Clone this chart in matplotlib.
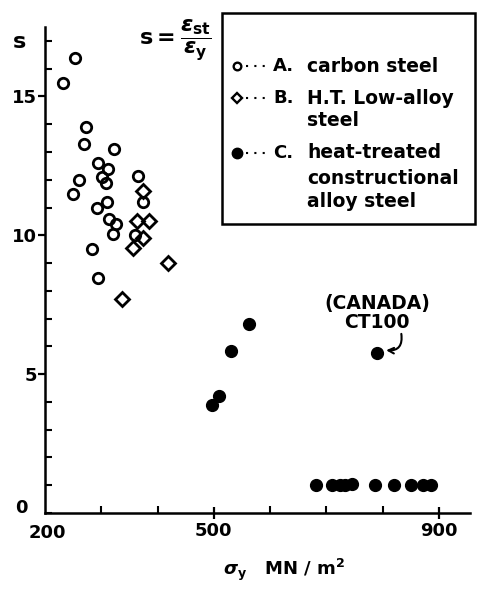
import matplotlib
matplotlib.use('Agg')
import matplotlib.pyplot as plt
from matplotlib.lines import Line2D
from matplotlib.patches import Rectangle
from matplotlib.ticker import FixedLocator, MultipleLocator

plt.rcParams['font.family'] = ['DejaVu Sans']
plt.rcParams['font.weight'] = 'bold'
plt.rcParams['mathtext.fontset'] = 'dejavusans'

# ---- data (yield stress MN/m^2, strain-hardening ratio s) ----
carbon_sy = [232, 253, 273, 269, 260, 250, 323, 294, 312, 301, 308, 292, 310,
             314, 326, 321, 284, 294, 365, 374, 360]
carbon_s = [15.5, 16.4, 13.9, 13.3, 12.0, 11.5, 13.1, 12.6, 12.4, 12.1, 11.9,
            11.0, 11.2, 10.6, 10.4, 10.05, 9.5, 8.45, 12.15, 11.2, 10.0]
lowalloy_sy = [374, 364, 385, 374, 356, 419, 337]
lowalloy_s = [11.6, 10.5, 10.5, 9.9, 9.55, 9.0, 7.7]
ht_sy = [497, 509, 531, 563, 790, 682, 710, 724, 733, 746, 787, 820, 851, 872, 886]
ht_s = [3.9, 4.2, 5.85, 6.8, 5.75, 1.0, 1.0, 1.0, 1.0, 1.05, 1.0, 1.0, 1.0, 1.0, 1.0]

x_major = [500, 900]
x_minor = [300, 400, 600, 700, 800]
y_major = [5, 10, 15]

legend_labels = [("A.", ["carbon steel"]),
                 ("B.", ["H.T. Low-alloy", "steel"]),
                 ("C.", ["heat-treated", "constructional", "alloy steel"])]

W, H = 479, 590
fig = plt.figure(figsize=(W / 100, H / 100), dpi=100)

def fx(px):
    return px / W

def fy(py):
    return 1 - py / H

ax = fig.add_axes([fx(45), fy(513), 425 / W, 486 / H])
ax.set_xlim(200, 955)
ax.set_ylim(0, 17.5)
for s in ['top', 'right']:
    ax.spines[s].set_visible(False)
for s in ['left', 'bottom']:
    ax.spines[s].set_linewidth(1.8)

ax.plot(carbon_sy, carbon_s, 'o', ms=7.5, mfc='none', mec='black', mew=2.0, clip_on=False)
ax.plot(lowalloy_sy, lowalloy_s, 'D', ms=6.8, mfc='none', mec='black', mew=2.0, clip_on=False)
ax.plot(ht_sy, ht_s, 'o', ms=8.5, mfc='black', mec='black', clip_on=False)

ax.set_xticks(x_major)
ax.xaxis.set_minor_locator(FixedLocator(x_minor))
ax.set_yticks(y_major)
ax.yaxis.set_minor_locator(MultipleLocator(1))
ax.tick_params(axis='x', which='major', direction='inout', length=9, width=1.6,
               labelsize=13, pad=2)
ax.tick_params(axis='x', which='minor', direction='in', length=5, width=1.5)
ax.tick_params(axis='y', which='major', direction='out', length=5, width=1.6,
               labelsize=13, pad=1)
ax.tick_params(axis='y', which='minor', direction='in', length=5, width=1.5)
for lab in ax.get_xticklabels() + ax.get_yticklabels():
    lab.set_fontweight('bold')

fig.text(fx(21), fy(508), '0', ha='center', va='center', fontsize=13, fontweight='bold')
fig.text(fx(47), fy(533), '200', ha='center', va='center', fontsize=13, fontweight='bold')

# axis labels
fig.text(fx(20), fy(42), 's', ha='center', va='center', fontsize=16, fontweight='bold')
fig.text(fx(284), fy(570), r'$\sigma_{\mathrm{y}}$   MN / m$^{\mathbf{2}}$',
         ha='center', va='center', fontsize=13, fontweight='bold')

# formula
fig.text(fx(175), fy(40), r'$\mathbf{s} = \dfrac{\epsilon_{\mathbf{st}}}{\epsilon_{\mathbf{y}}}$',
         ha='center', va='center', fontsize=16)

# annotation
ax.text(790, 7.2, '(CANADA)\nCT100', ha='center', va='center', fontsize=13.5,
        fontweight='bold', linespacing=1.0)
ax.annotate('', xy=(806, 5.86), xytext=(833, 6.45),
            arrowprops=dict(arrowstyle='->', connectionstyle='arc3,rad=-0.6',
                            lw=1.5, color='black', shrinkA=0, shrinkB=0))

# legend box
fig.add_artist(Rectangle((fx(222), fy(224)), (475 - 222) / W, (224 - 13) / H,
                         transform=fig.transFigure, fill=False, lw=1.8, ec='black'))
row_y = [[66], [98, 120], [153, 178, 202]]
markers = [dict(marker='o', ms=5.5, mfc='none', mew=1.7),
           dict(marker='D', ms=5, mfc='none', mew=1.7),
           dict(marker='o', ms=7.5, mfc='black', mew=1)]
for (letter, lines), ys, mk in zip(legend_labels, row_y, markers):
    y0 = ys[0]
    fig.add_artist(Line2D([fx(246), fx(270)], [fy(y0), fy(y0)], transform=fig.transFigure,
                          ls=(0, (1, 3)), lw=1.5, color='black'))
    fig.add_artist(Line2D([fx(237)], [fy(y0)], transform=fig.transFigure, ls='none',
                          mec='black', color='black', **mk))
    fig.text(fx(273), fy(y0), letter, ha='left', va='center', fontsize=13, fontweight='bold')
    for line, yy in zip(lines, ys):
        fig.text(fx(307), fy(yy), line, ha='left', va='center', fontsize=13.5, fontweight='bold')

fig.savefig('out.png', dpi=100)
